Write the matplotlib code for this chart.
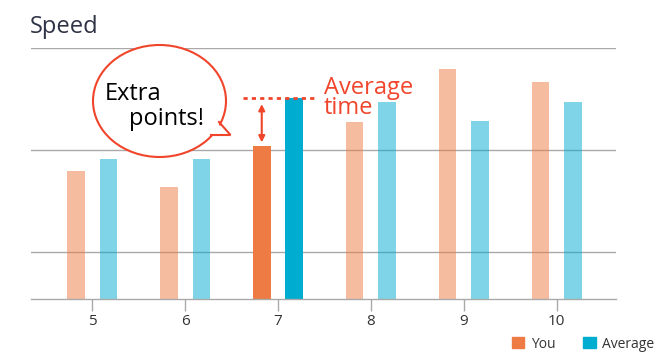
import numpy as np
import matplotlib.pyplot as plt
from matplotlib.patches import Ellipse, Polygon, Patch
from matplotlib.lines import Line2D

plt.rcParams['font.family'] = ['Open Sans', 'DejaVu Sans']

# data
laps = [5, 6, 7, 8, 9, 10]
you = [35.9, 32.7, 40.8, 45.5, 55.9, 53.3]
average = [38.2, 38.2, 50.2, 49.4, 45.7, 49.4]
highlight = 7

ORANGE = '#EE7B43'
BLUE = '#00ACD0'
RED = '#F0452B'
GRID = '#A9A9A9'

fig = plt.figure(figsize=(6.6, 3.64), dpi=100)
ax = fig.add_axes([31 / 660, 1 - 299 / 364, 585 / 660, 251 / 364])

x = np.array(laps)
w = 0.19
off = 0.175
for xi, yv, av in zip(x, you, average):
    a = 1.0 if xi == highlight else 0.5
    ax.bar(xi - off, yv, width=w, color=ORANGE, alpha=a, zorder=2, linewidth=0)
    ax.bar(xi + off, av, width=w, color=BLUE, alpha=a, zorder=2, linewidth=0)

ax.set_xlim(4.34, 10.64)
ax.set_ylim(10.8, 60)
ax.set_yticks([20, 40, 60])
ax.set_yticklabels([])
ax.tick_params(axis='y', length=0)
ax.grid(axis='y', color=GRID, lw=1, zorder=0)
ax.set_axisbelow(True)
ax.set_xticks(laps)
ax.set_xticklabels([str(l) for l in laps])
ax.tick_params(axis='x', length=8.5, width=1, color=GRID, labelsize=11,
               labelcolor='#333333', pad=2.5)
for s in ['top', 'right', 'left']:
    ax.spines[s].set_visible(False)
ax.spines['bottom'].set_color(GRID)
ax.spines['bottom'].set_linewidth(1)

# annotation: average line, gap arrow and label
hi = laps.index(highlight)
ax.plot([6.62, 7.43], [average[hi], average[hi]], color=RED, lw=2,
        dashes=(1.5, 1.5), clip_on=False, zorder=3)
ax.annotate('', xy=(highlight - off, you[hi] + 0.7), xytext=(highlight - off, average[hi] - 1.2),
            arrowprops=dict(arrowstyle='<|-|>', color=RED, lw=1.5, mutation_scale=9,
                            shrinkA=0, shrinkB=0), zorder=3)
ax.text(7.49, 47.0, 'Average\ntime', color=RED, fontsize=17, va='baseline', ha='left',
        linespacing=0.8)

fig.text(30 / 660, 1 - 33 / 364, 'Speed', fontsize=17, color='#2E3345', va='baseline')

# speech bubble in pixel coordinates
ov = fig.add_axes([0, 0, 1, 1], zorder=5)
ov.set_xlim(0, 660)
ov.set_ylim(364, 0)
ov.axis('off')
ov.patch.set_alpha(0)
ov.add_patch(Ellipse((159.5, 101), 133, 112, facecolor='white', edgecolor=RED, lw=1.5))
ov.add_patch(Polygon([(218, 124), (230, 135), (211, 135), (205, 128)], closed=True,
                     facecolor='white', edgecolor='none'))
ov.add_line(Line2D([219, 230.5, 211], [122, 135, 135], color=RED, lw=1.5,
                   solid_joinstyle='miter'))
ov.text(105, 100, 'Extra', fontsize=17, color='black', va='baseline')
ov.text(129, 125, 'points!', fontsize=17, color='black', va='baseline')

handles = [Patch(color=ORANGE, label='You'), Patch(color=BLUE, label='Average')]
fig.legend(handles=handles, loc='center right', bbox_to_anchor=(654 / 660, 1 - 344 / 364),
           ncol=2, frameon=False, fontsize=10, handlelength=0.9, handleheight=0.9,
           handletextpad=0.45, columnspacing=2.0, borderpad=0, borderaxespad=0,
           labelcolor='#333333')

fig.savefig('out.png', dpi=100)
